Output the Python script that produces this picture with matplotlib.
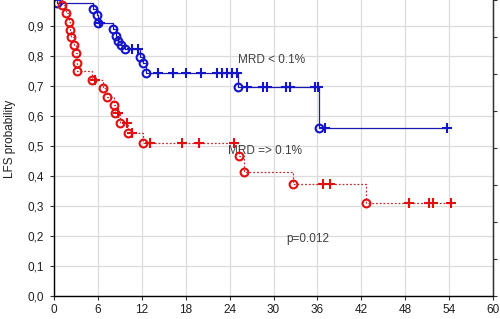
import numpy as np
import matplotlib
matplotlib.use("Agg")
import matplotlib.pyplot as plt

# ---- data ----
# MRD < 0.1%  (blue)
blue_event_t = [0.4, 5.3, 5.9, 6.0, 8.1, 8.5, 8.8, 9.1, 9.7, 11.7, 12.2, 12.6, 25.1, 36.2]
blue_event_s = [0.977, 0.957, 0.937, 0.910, 0.890, 0.867, 0.850, 0.837, 0.823, 0.797, 0.777, 0.743, 0.697, 0.560]
blue_cens_t = [6.3, 10.7, 11.5, 14.2, 16.3, 18.0, 20.1, 22.3, 23.0, 23.6, 24.3, 25.0,
               26.4, 28.6, 29.1, 31.7, 32.2, 35.7, 36.1, 37.0, 53.7]

# MRD => 0.1%  (red)
red_event_t = [1.1, 1.6, 2.0, 2.2, 2.3, 2.7, 3.0, 3.1, 3.2, 5.2, 6.7, 7.3, 8.2, 8.4,
               9.0, 10.1, 12.2, 25.3, 26.0, 32.6, 42.7]
red_event_s = [0.970, 0.943, 0.913, 0.887, 0.863, 0.837, 0.810, 0.777, 0.750, 0.720,
               0.693, 0.663, 0.637, 0.610, 0.577, 0.543, 0.510, 0.467, 0.413, 0.373, 0.310]
red_cens_t = [5.6, 8.8, 10.0, 10.7, 13.1, 17.5, 19.8, 24.6, 36.8, 37.7, 48.5, 51.2, 51.8, 54.2]

x_ticks = [0, 6, 12, 18, 24, 30, 36, 42, 48, 54, 60]
y_ticks = [0.0, 0.1, 0.2, 0.3, 0.4, 0.5, 0.6, 0.7, 0.8, 0.9]
y_tick_labels = ["0,0", "0,1", "0,2", "0,3", "0,4", "0,5", "0,6", "0,7", "0,8", "0,9"]

plt.rcParams['font.family'] = ['Liberation Sans', 'DejaVu Sans']

fig = plt.figure(figsize=(5.0, 3.19), dpi=100)
ax = fig.add_axes([0.108, 0.072, 0.878, 0.928])


def step_xy(ev_t, ev_s, t_end):
    xs = [0.0]
    ys = [1.0]
    for t, s in zip(ev_t, ev_s):
        xs += [t, t]
        ys += [ys[-1], s]
    xs.append(t_end)
    ys.append(ys[-1])
    return np.array(xs), np.array(ys)


def surv_at(ev_t, ev_s, times):
    ev_t = np.asarray(ev_t)
    ev_s = np.asarray(ev_s)
    idx = np.searchsorted(ev_t, np.asarray(times), side='right') - 1
    return np.where(idx >= 0, ev_s[np.clip(idx, 0, None)], 1.0)


blue_line = '#1a1ab0'
blue_mark = '#1414c8'
red_line = '#c03030'
red_mark = '#e01010'

bx, by = step_xy(blue_event_t, blue_event_s, max(blue_cens_t))
ax.plot(bx, by, color=blue_line, lw=0.9, zorder=3)
ax.plot(blue_event_t, blue_event_s, 'o', ms=5.6, mfc='none', mec=blue_mark, mew=1.5, zorder=4)
ax.plot(blue_cens_t, surv_at(blue_event_t, blue_event_s, blue_cens_t), '+', ms=7.5,
        color=blue_mark, mew=1.5, zorder=4)

rx, ry = step_xy(red_event_t, red_event_s, max(red_cens_t))
ax.plot(rx, ry, color=red_line, lw=0.9, ls=(0, (1.5, 1.5)), zorder=3)
ax.plot(red_event_t, red_event_s, 'o', ms=5.6, mfc='none', mec=red_mark, mew=1.5, zorder=4)
ax.plot(red_cens_t, surv_at(red_event_t, red_event_s, red_cens_t), '+', ms=7.5,
        color=red_mark, mew=1.5, zorder=4)

ax.set_xlim(0, 60)
ax.set_ylim(0, 0.987)
ax.set_xticks(x_ticks)
ax.set_yticks(y_ticks)
ax.set_yticklabels(y_tick_labels)
ax.grid(True, color='#dcdcdc', lw=0.9)
ax.set_axisbelow(True)

ax.spines['top'].set_visible(False)
for sp in ['left', 'bottom', 'right']:
    ax.spines[sp].set_color('#303030')
    ax.spines[sp].set_linewidth(1.0)

ax.tick_params(axis='both', direction='out', length=3, width=0.8, color='#303030',
               labelsize=8.5, labelcolor='#202020', pad=3)
ax.tick_params(axis='y', pad=4)

ax2 = ax.twinx()
ax2.set_ylim(0, 1)
ax2.set_yticks(np.linspace(0, 1, 9))
ax2.set_yticklabels([])
ax2.tick_params(axis='y', direction='out', length=3, width=0.8, color='#303030')
ax2.spines['top'].set_visible(False)
ax2.spines['right'].set_color('#303030')

ax.set_ylabel('LFS probability', fontsize=8.5, color='#202020')
ax.yaxis.set_label_coords(-0.086, 0.53)

ax.text(29.8, 0.787, 'MRD < 0.1%', fontsize=8.5, color='#404040', ha='center', va='center')
ax.text(28.8, 0.484, 'MRD => 0.1%', fontsize=8.5, color='#404040', ha='center', va='center')
ax.text(34.7, 0.19, 'p=0.012', fontsize=8.5, color='#404040', ha='center', va='center')

fig.savefig('out.png', dpi=100)
